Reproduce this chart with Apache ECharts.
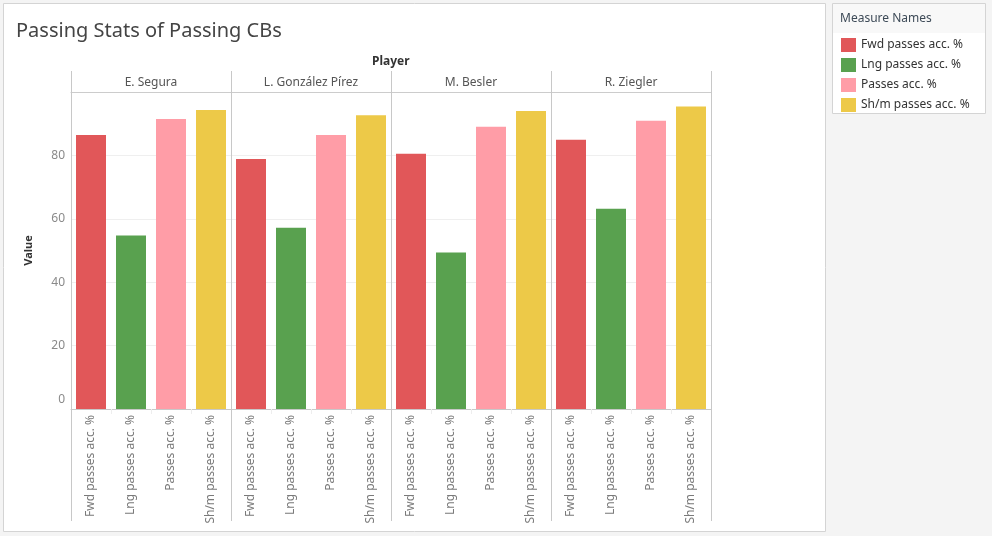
<!DOCTYPE html>
<html>
<head>
<meta charset="utf-8">
<script src="https://cdn.jsdelivr.net/npm/echarts@6/dist/echarts.min.js"></script>
<style>
html,body{margin:0;padding:0;background:#f4f4f4;}
#c{width:992px;height:536px;}
</style>
</head>
<body>
<div id="c"></div>
<script>
const players = ['E. Segura', 'L. González Pírez', 'M. Besler', 'R. Ziegler'];
const measures = ['Fwd passes acc. %', 'Lng passes acc. %', 'Passes acc. %', 'Sh/m passes acc. %'];
const fwdPasses = [86.4, 78.9, 80.5, 84.9];
const lngPasses = [54.7, 57.2, 49.4, 63.2];
const allPasses = [91.5, 86.4, 89.0, 90.9];
const shmPasses = [94.3, 92.7, 94.0, 95.4];
const yTicks = [0, 20, 40, 60, 80];
const colors = ['#e15759', '#59a14f', '#ff9da7', '#edc948'];
const valuesByMeasure = [fwdPasses, lngPasses, allPasses, shmPasses];

const FONT = '"Noto Sans", "Open Sans", sans-serif';
const panelLeft = 71, panelW = 160, plotTop = 92, plotH = 317;

const grids = [], xAxes = [], yAxes = [], series = [];
players.forEach((p, i) => {
  grids.push({left: panelLeft + panelW * i, top: plotTop, width: panelW, height: plotH, containLabel: false});
  xAxes.push({
    gridIndex: i, type: 'category', data: measures, position: 'bottom',
    axisLine: {show: true, lineStyle: {color: '#c8c8c8', width: 1}},
    axisTick: {show: true, length: 5, lineStyle: {color: '#eeeeee'}},
    axisLabel: {rotate: 90, fontSize: 12, color: '#7a7a7a', margin: 6, fontFamily: FONT}
  });
  xAxes.push({
    gridIndex: i, type: 'category', data: [p], position: 'top',
    axisLine: {show: true, lineStyle: {color: '#cccccc', width: 1}},
    axisTick: {show: false},
    axisLabel: {fontSize: 12, color: '#555', margin: 3, fontFamily: FONT}
  });
  yAxes.push({
    gridIndex: i, type: 'value', min: 0, max: 100, interval: 20,
    name: i === 0 ? 'Value' : '', nameLocation: 'middle', nameGap: 37,
    nameTextStyle: {fontSize: 11, fontWeight: 'bold', color: '#333', fontFamily: FONT},
    axisLine: {show: false}, axisTick: {show: false},
    splitLine: {show: true, lineStyle: {color: '#efefef', width: 1}},
    axisLabel: {
      show: i === 0, showMaxLabel: false, fontSize: 12, color: '#8a8a8a', margin: 6, fontFamily: FONT,
      formatter: v => (yTicks.indexOf(v) < 0 ? '' : (v === 0 ? '{z|0}' : String(v))),
      rich: {z: {fontSize: 12, color: '#8a8a8a', fontFamily: FONT, padding: [0, 0, 18, 0]}}
    }
  });
  measures.forEach((m, k) => {
    series.push({
      type: 'bar', name: m, xAxisIndex: 2 * i, yAxisIndex: i, stack: 'p' + i,
      barCategoryGap: '25%',
      itemStyle: {color: colors[k]},
      data: measures.map((_, j) => (j === k ? valuesByMeasure[k][i] : '-'))
    });
  });
});

const vLines = [];
for (let i = 0; i <= players.length; i++) {
  const x = panelLeft + panelW * i + 0.5;
  vLines.push({type: 'line', shape: {x1: x, y1: 71, x2: x, y2: 521}, style: {stroke: '#c8c8c8', lineWidth: 1}, z: 10});
}

const chart = echarts.init(document.getElementById('c'), null, {renderer: 'canvas'});
chart.setOption({
  backgroundColor: '#f4f4f4',
  animation: false,
  textStyle: {fontFamily: FONT},
  title: {
    text: 'Passing Stats of Passing CBs', left: 11, top: 16,
    textStyle: {fontSize: 20, fontWeight: 'normal', color: '#444', fontFamily: FONT}
  },
  legend: {
    data: measures, orient: 'vertical', left: 836, top: 33,
    itemWidth: 15, itemHeight: 14, itemGap: 6, icon: 'rect', selectedMode: false,
    textStyle: {fontSize: 12, color: '#333', fontFamily: FONT}
  },
  graphic: [
    {type: 'rect', shape: {x: 3.5, y: 3.5, width: 822, height: 528}, style: {fill: '#ffffff', stroke: '#d4d4d4', lineWidth: 1}, z: -10},
    {type: 'rect', shape: {x: 832.5, y: 3.5, width: 153, height: 110}, style: {fill: '#ffffff', stroke: '#d4d4d4', lineWidth: 1}, z: -10},
    {type: 'rect', shape: {x: 833, y: 4, width: 152, height: 29}, style: {fill: '#f8f8f8'}, z: -9},
    {type: 'text', left: 840, top: 13, style: {text: 'Measure Names', fontSize: 12, fill: '#3d4a57', fontFamily: FONT}, z: 10},
    {type: 'text', left: 372, top: 56, style: {text: 'Player', fontSize: 12, fontWeight: 'bold', fill: '#333', fontFamily: FONT}, z: 10},
    ...vLines
  ],
  grid: grids,
  xAxis: xAxes,
  yAxis: yAxes,
  series: series
});
</script>
</body>
</html>
